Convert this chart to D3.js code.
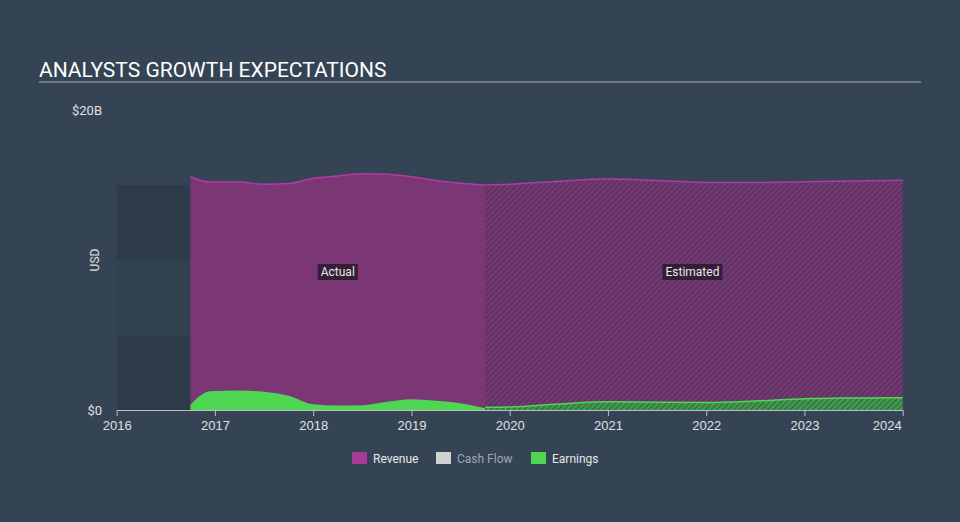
<!DOCTYPE html>
<html>
<head>
<meta charset="utf-8">
<script src="https://cdn.jsdelivr.net/npm/d3@7"></script>
<style>
  body { margin: 0; background: #344454; }
  svg { display: block; font-family: Roboto, "Open Sans", sans-serif; }
</style>
</head>
<body>
<script>
// Values in billions USD, dates as fractional years
var revenueActualDates = [2016.75, 2016.95, 2017.25, 2017.5, 2017.75, 2018.0, 2018.25, 2018.5, 2018.75, 2019.0, 2019.25, 2019.5, 2019.75];
var revenueActual      = [15.55, 15.2, 15.2, 15.05, 15.1, 15.45, 15.6, 15.75, 15.72, 15.55, 15.3, 15.12, 15.0];
var revenueEstDates    = [2019.75, 2020.0, 2020.5, 2021.0, 2021.5, 2022.0, 2022.5, 2023.0, 2023.5, 2024.0];
var revenueEst         = [15.0, 15.05, 15.25, 15.4, 15.3, 15.17, 15.17, 15.22, 15.27, 15.32];

var earningsActualDates = [2016.75, 2016.95, 2017.25, 2017.5, 2017.75, 2018.0, 2018.25, 2018.5, 2018.75, 2019.0, 2019.25, 2019.5, 2019.75];
var earningsActual      = [0.33, 1.25, 1.3, 1.22, 0.95, 0.38, 0.3, 0.32, 0.55, 0.72, 0.62, 0.45, 0.12];
var earningsEstDates    = [2019.75, 2020.0, 2020.5, 2021.0, 2021.5, 2022.0, 2022.5, 2023.0, 2023.5, 2024.0];
var earningsEst         = [0.18, 0.2, 0.4, 0.55, 0.52, 0.5, 0.6, 0.75, 0.8, 0.82];

var xTicks = [2016, 2017, 2018, 2019, 2020, 2021, 2022, 2023, 2024];
var legendItems = ["Revenue", "Cash Flow", "Earnings"];
var legendColors = ["#a93a9a", "#d0d0d0", "#4fd653"];

var width = 960, height = 522;

var svg = d3.select("body").append("svg")
    .attr("width", width)
    .attr("height", height);

svg.append("rect").attr("width", width).attr("height", height).attr("fill", "#344454");

var x = d3.scaleLinear().domain([2016, 2024]).range([116.7, 902.7]);
var y = d3.scaleLinear().domain([0, 20]).range([410, 110]);

// hatch patterns
var defs = svg.append("defs");
var p1 = defs.append("pattern").attr("id", "hatchRev")
    .attr("patternUnits", "userSpaceOnUse").attr("width", 4).attr("height", 4)
    .attr("patternTransform", "rotate(45)");
p1.append("rect").attr("width", 4).attr("height", 4).attr("fill", "#763672");
p1.append("line").attr("x1", 0).attr("y1", 0).attr("x2", 0).attr("y2", 4)
    .attr("stroke", "#3c3550").attr("stroke-width", 1.6);
var p2 = defs.append("pattern").attr("id", "hatchEarn")
    .attr("patternUnits", "userSpaceOnUse").attr("width", 4).attr("height", 4)
    .attr("patternTransform", "rotate(45)");
p2.append("rect").attr("width", 4).attr("height", 4).attr("fill", "#3f9a4a");
p2.append("line").attr("x1", 0).attr("y1", 0).attr("x2", 0).attr("y2", 4)
    .attr("stroke", "#34504a").attr("stroke-width", 1.6);

// title
svg.append("text").attr("x", 39).attr("y", 77)
    .attr("fill", "#ffffff").attr("font-size", 21)
    .text("ANALYSTS GROWTH EXPECTATIONS");
svg.append("line").attr("x1", 39).attr("x2", 921).attr("y1", 82).attr("y2", 82)
    .attr("stroke", "#a9b0b8").attr("stroke-width", 1.2);

// past (no data) shaded bands
var bandStart = 2016, bandEnd = 2016.75;
[[0, 5, "#2e3b48"], [5, 10, "#324150"], [10, 15, "#2e3b48"]].forEach(function(b) {
  svg.append("rect")
    .attr("x", x(bandStart)).attr("width", x(bandEnd) - x(bandStart))
    .attr("y", y(b[1])).attr("height", y(b[0]) - y(b[1]))
    .attr("fill", b[2]);
});

function pts(dates, vals) {
  return dates.map(function(d, i) { return { t: d, v: vals[i] }; });
}

var area = d3.area().curve(d3.curveMonotoneX)
    .x(function(d) { return x(d.t); })
    .y0(y(0))
    .y1(function(d) { return y(d.v); });
var line = d3.line().curve(d3.curveMonotoneX)
    .x(function(d) { return x(d.t); })
    .y(function(d) { return y(d.v); });

var revA = pts(revenueActualDates, revenueActual);
var revE = pts(revenueEstDates, revenueEst);
var earnA = pts(earningsActualDates, earningsActual);
var earnE = pts(earningsEstDates, earningsEst);

svg.append("path").datum(revA).attr("d", area).attr("fill", "#7b3775");
svg.append("path").datum(revE).attr("d", area).attr("fill", "url(#hatchRev)");
svg.append("path").datum(revA).attr("d", line).attr("fill", "none").attr("stroke", "#b23aa6").attr("stroke-width", 1.5);
svg.append("path").datum(revE).attr("d", line).attr("fill", "none").attr("stroke", "#b23aa6").attr("stroke-width", 1.5);

svg.append("path").datum(earnA).attr("d", area).attr("fill", "#4fd653");
svg.append("path").datum(earnE).attr("d", area).attr("fill", "url(#hatchEarn)");
svg.append("path").datum(earnE).attr("d", line).attr("fill", "none").attr("stroke", "#4fd653").attr("stroke-width", 1.5);

// Actual / Estimated labels
function tag(cx, cy, txt) {
  var t = svg.append("text").attr("x", cx).attr("y", cy + 4)
      .attr("text-anchor", "middle").attr("font-size", 12)
      .attr("fill", "#e8e8e8").text(txt);
  var bb = t.node().getBBox();
  svg.insert("rect", function() { return t.node(); })
      .attr("x", bb.x - 3).attr("y", cy - 8).attr("width", bb.width + 6).attr("height", 16)
      .attr("fill", "#2a1a2c").attr("opacity", 0.85);
}
tag(x(2018.25), 272, "Actual");
tag(x(2021.86), 272, "Estimated");

// x axis
var xAxis = d3.axisBottom(x).tickValues(xTicks).tickFormat(d3.format("d")).tickSize(6).tickSizeOuter(0);
var gx = svg.append("g").attr("transform", "translate(0," + y(0) + ")").call(xAxis);
gx.select(".domain").attr("stroke", "#b8bec6");
gx.selectAll(".tick line").attr("stroke", "#b8bec6");
gx.selectAll(".tick text").attr("fill", "#e0e0e0").attr("font-size", 13).attr("dy", "0.85em")
    .attr("dx", function(d) { return d === 2024 ? -16 : 0; });

// y labels
svg.append("text").attr("x", 102).attr("y", 115).attr("text-anchor", "end")
    .attr("fill", "#e0e0e0").attr("font-size", 13).text("$20B");
svg.append("text").attr("x", 102).attr("y", 415).attr("text-anchor", "end")
    .attr("fill", "#e0e0e0").attr("font-size", 13).text("$0");
svg.append("text").attr("transform", "translate(99,260) rotate(-90)")
    .attr("text-anchor", "middle").attr("fill", "#e0e0e0").attr("font-size", 12).text("USD");

// legend
var legX = [352, 436, 531];
legendItems.forEach(function(name, i) {
  var g = svg.append("g").attr("transform", "translate(" + legX[i] + ",452)");
  g.append("rect").attr("width", 15).attr("height", 12).attr("fill", legendColors[i]);
  g.append("text").attr("x", 21).attr("y", 10.5).attr("font-size", 12)
      .attr("fill", i === 1 ? "#a0a8b0" : "#e8e8e8").text(name);
});
</script>
</body>
</html>
